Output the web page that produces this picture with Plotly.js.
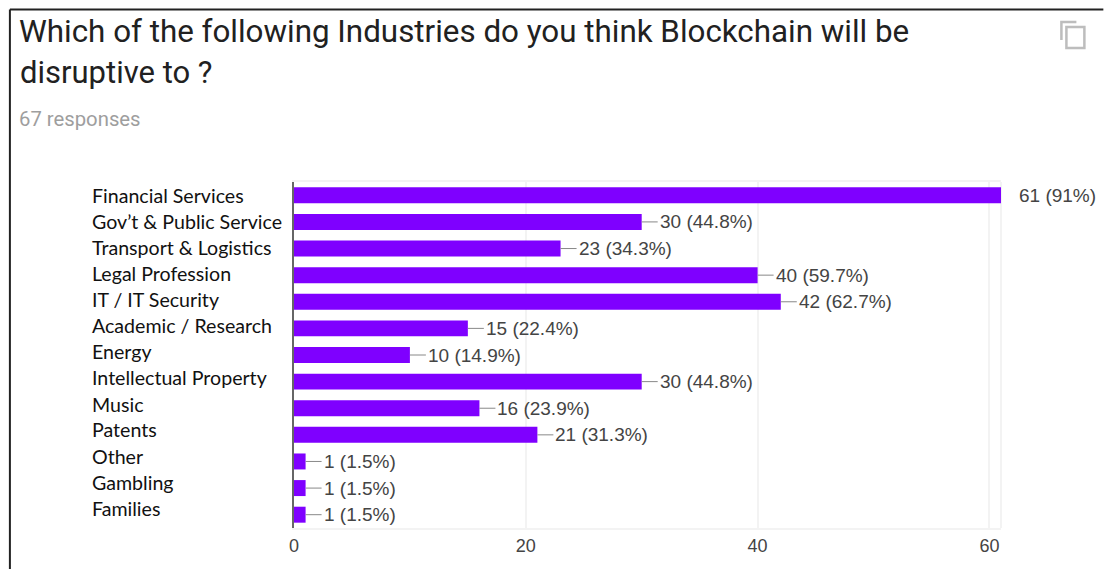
<!DOCTYPE html>
<html>
<head>
<meta charset="utf-8">
<script src="https://cdn.plot.ly/plotly-3.0.1.min.js"></script>
<style>html,body{margin:0;padding:0;background:#fff;overflow:hidden}</style>
</head>
<body>
<div id="chart" style="width:1104px;height:569px"></div>
<script>
// Survey results: number of respondents per industry
const industries = ["Financial Services","Gov’t & Public Service","Transport & Logistics","Legal Profession","IT / IT Security","Academic / Research","Energy","Intellectual Property","Music","Patents","Other","Gambling","Families"];
const counts = [61,30,23,40,42,15,10,30,16,21,1,1,1];
const shares = ["91%","44.8%","34.3%","59.7%","62.7%","22.4%","14.9%","44.8%","23.9%","31.3%","1.5%","1.5%","1.5%"];
const xTicks = [0,20,40,60];
const questionLines = ["Which of the following Industries do you think Blockchain will be","disruptive to ?"];
const responseNote = "67 responses";
// Vertical nudge of each hand-placed category label, in pixels (positive is up)
const labelNudge = [0,0,1,2,2,3,4,4,4,5,5,6,6];

const W = 1104, H = 569;
const M = {l:293.5, r:102.5, t:182, b:41};
const px = x => (x - M.l) / (W - M.l - M.r);
const py = y => 1 - (y - M.t) / (H - M.t - M.b);
const frame = "#f3f3f3", ink = "#444444";

const rows = industries.map((_, i) => i);
const shapes = [
  // plot frame on the open side
  {type:"line", xref:"paper", yref:"paper", x0:1, x1:1, y0:0, y1:1, layer:"below", line:{color:frame, width:2}},
  // page border
  {type:"line", xref:"paper", yref:"paper", x0:px(9), x1:px(1104), y0:py(9.5), y1:py(9.5), line:{color:"#222", width:2}},
  {type:"line", xref:"paper", yref:"paper", x0:px(9), x1:px(9), y0:py(9.5), y1:py(569), line:{color:"#222", width:2}},
  // copy icon
  {type:"path", xref:"paper", yref:"paper", path:`M ${px(1077)} ${py(22)} L ${px(1062)} ${py(22)} L ${px(1062)} ${py(40)}`, line:{color:"#bdbdbd", width:2.5}},
  {type:"rect", xref:"paper", yref:"paper", x0:px(1067), x1:px(1085), y0:py(48), y1:py(27), line:{color:"#bdbdbd", width:2.5}}
];

const annotations = [];
annotations.push({xref:"paper", yref:"paper", x:px(17), y:py(73), xanchor:"left", yanchor:"middle", showarrow:false,
  text:questionLines[1], font:{family:"Roboto", size:31, color:"#212121"}});
annotations.push({xref:"paper", yref:"paper", x:px(16), y:py(119), xanchor:"left", yanchor:"middle", showarrow:false,
  text:responseNote, font:{family:"Roboto", size:20.3, color:"#9e9e9e"}});

rows.forEach(i => {
  // left-aligned category label
  annotations.push({xref:"paper", yref:"y", x:px(89), y:i, yshift:labelNudge[i], xanchor:"left", yanchor:"middle", showarrow:false,
    text:industries[i], font:{family:"Lato", size:19.6, color:"#111"}});
  // value label with a leader line, except the longest bar
  const label = `${counts[i]} (${shares[i]})`;
  const leader = counts[i] < 61;
  annotations.push({xref:"x", yref:"y", x:counts[i], y:i, xanchor:"left", yanchor:"middle",
    showarrow:leader, arrowhead:0, arrowwidth:1, arrowcolor:"#888", ax:leader ? 16 : 0, ay:0, standoff:0,
    xshift:leader ? 0 : 16,
    text:label, font:{family:"Liberation Sans", size:19, color:ink}});
});

Plotly.newPlot("chart", [{
  type:"bar", orientation:"h", x:counts, y:rows,
  marker:{color:"#7f00ff"}, hoverinfo:"skip", cliponaxis:false
}], {
  width:W, height:H, autosize:false, showlegend:false, bargap:0.4,
  margin:M, paper_bgcolor:"#fff", plot_bgcolor:"#fff",
  title:{text:questionLines[0], x:19/W, xanchor:"left", xref:"container", y:1-31/H, yanchor:"middle",
    font:{family:"Roboto", size:31.35, color:"#212121"}},
  xaxis:{range:[0,61], tickvals:xTicks, ticks:"", showgrid:true, gridcolor:frame, gridwidth:2, zeroline:false,
    showline:true, mirror:true, linecolor:frame, linewidth:2,
    tickfont:{family:"Liberation Sans", size:18, color:ink}},
  yaxis:{range:[12.5,-0.5], tickvals:rows, showticklabels:false, ticks:"", showgrid:false, zeroline:false,
    showline:true, linecolor:"#666", linewidth:2},
  shapes, annotations
}, {displayModeBar:false, staticPlot:true});
</script>
</body>
</html>
